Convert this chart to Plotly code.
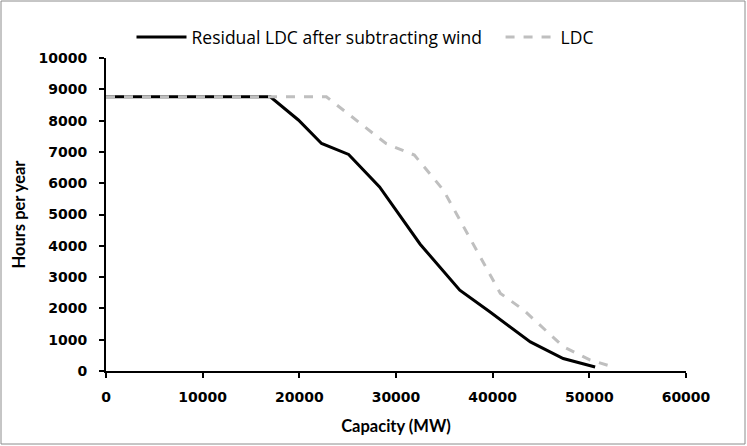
import plotly.graph_objects as go

resid_x = [0, 17000, 19900, 22300, 25100, 28300, 32500, 36600, 39700, 43900, 47300, 50600]
resid_y = [8760, 8760, 8020, 7270, 6920, 5880, 4050, 2580, 1890, 930, 400, 130]

ldc_x = [0, 22800, 29000, 31900, 34900, 40800, 43200, 47300, 50100, 52700]
ldc_y = [8760, 8760, 7260, 6900, 5780, 2480, 1950, 780, 350, 110]

x_ticks = [0, 10000, 20000, 30000, 40000, 50000, 60000]
y_ticks = [0, 1000, 2000, 3000, 4000, 5000, 6000, 7000, 8000, 9000, 10000]

TICKFONT = "DejaVu Sans"
FONT = "Lato"

fig = go.Figure()
fig.add_trace(go.Scatter(x=resid_x, y=resid_y, mode="lines",
                         name="Residual LDC after subtracting wind\u00a0\u00a0\u00a0",
                         line=dict(color="black", width=3)))
fig.add_trace(go.Scatter(x=ldc_x, y=ldc_y, mode="lines", name="LDC",
                         line=dict(color="#bfbfbf", width=3, dash="dash")))

W, H = 747, 446
L, R, T, B = 106, 61, 58, 75
pw, ph = W - L - R, H - T - B

fig.update_layout(
    width=W, height=H,
    margin=dict(l=L, r=R, t=T, b=B),
    paper_bgcolor="white", plot_bgcolor="white",
    font=dict(family=FONT, color="black", size=14),
    showlegend=True,
    legend=dict(orientation="h", x=(365 - L) / pw, xanchor="center",
                y=1.0 + (T - 37) / ph, yanchor="middle",
                font=dict(size=17.5, family="Open Sans", color="black"),
                itemwidth=50, bgcolor="rgba(0,0,0,0)"),
    xaxis=dict(range=[0, 60000], tickvals=x_ticks, ticktext=[str(v) for v in x_ticks],
               showgrid=False, zeroline=False, showline=True, linecolor="black",
               linewidth=2, ticks="outside", ticklen=5, tickwidth=2, tickcolor="black",
               ticklabelstandoff=7,
               tickfont=dict(size=14, family=TICKFONT, weight="bold"),
               title=dict(text="<b>Capacity (MW)</b>", font=dict(size=16.5, family=FONT),
                          standoff=17)),
    yaxis=dict(range=[0, 10000], tickvals=y_ticks, ticktext=[str(v) for v in y_ticks],
               showgrid=False, zeroline=False, showline=True, linecolor="black",
               linewidth=2, ticks="outside", ticklen=5, tickwidth=2, tickcolor="black",
               ticklabelstandoff=9,
               tickfont=dict(size=14, family=TICKFONT, weight="bold"),
               title=dict(text="<b>Hours per year</b>", font=dict(size=16.5, family=FONT),
                          standoff=9)),
    shapes=[dict(type="rect", xref="paper", yref="paper",
                 x0=(1 - L) / pw, x1=(745 - L) / pw,
                 y0=(H - B - 444) / ph, y1=(H - B - 1) / ph,
                 line=dict(color="#8c8c8c", width=1), fillcolor="rgba(0,0,0,0)",
                 layer="below")],
)

fig.write_html("out.html")
